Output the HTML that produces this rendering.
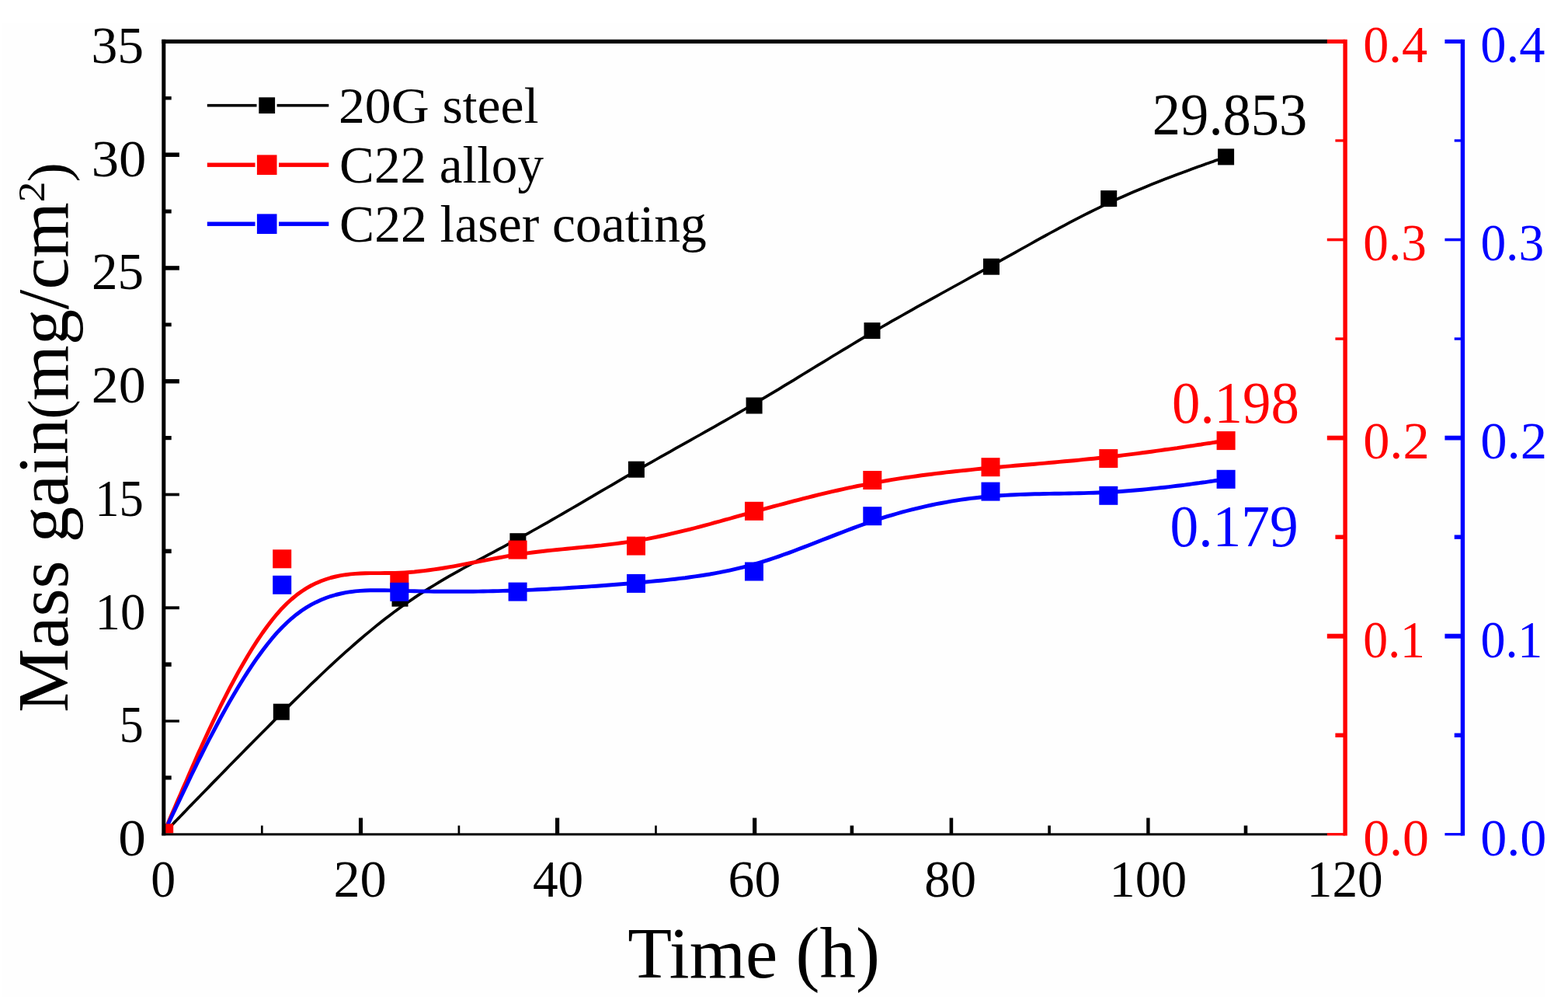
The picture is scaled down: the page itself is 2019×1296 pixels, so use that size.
<!DOCTYPE html>
<html lang="en"><head><meta charset="utf-8"><title>Mass gain versus time</title>
<style>html,body{margin:0;padding:0;background:#fff;}body{width:2019px;height:1296px;overflow:hidden;}svg{display:block;}text{font-family:'Liberation Serif','DejaVu Serif',serif;white-space:pre;}</style></head><body>
<svg width="2019" height="1296" viewBox="0 0 2019 1296">
<rect x="0.00" y="0.00" width="2019.00" height="1296.00" fill="#ffffff"/>
<rect x="3.00" y="29.00" width="1986.00" height="1254.00" fill="#fefefe"/>
<svg x="210.8" y="53.4" width="1521.3" height="1019.0" viewBox="210.8 53.4 1521.3 1019.0" overflow="hidden">
<path d="M210.5,1073.0 L210.5,1073.0 L210.5,1073.0 L210.5,1072.9 L210.6,1072.9 L210.7,1072.8 L210.9,1072.6 L211.1,1072.4 L211.4,1072.0 L211.8,1071.6 L212.3,1071.1 L212.9,1070.5 L213.7,1069.7 L214.5,1068.8 L215.5,1067.8 L216.7,1066.6 L218.0,1065.3 L219.5,1063.7 L221.2,1062.0 L223.1,1060.0 L225.1,1057.9 L227.4,1055.5 L230.0,1052.9 L232.8,1050.0 L235.8,1046.9 L239.1,1043.5 L242.6,1039.8 L246.4,1035.9 L250.4,1031.8 L254.7,1027.4 L259.1,1022.8 L263.8,1018.0 L268.6,1013.1 L273.6,1007.9 L278.8,1002.6 L284.1,997.2 L289.6,991.6 L295.2,985.8 L300.9,980.0 L306.7,974.1 L312.7,968.0 L318.7,961.9 L324.8,955.8 L331.0,949.5 L337.2,943.3 L343.5,937.0 L349.8,930.6 L356.1,924.3 L362.4,918.0 L368.8,911.7 L375.1,905.4 L381.5,899.2 L387.8,893.0 L394.2,886.8 L400.5,880.6 L406.9,874.6 L413.2,868.5 L419.6,862.5 L425.9,856.6 L432.3,850.7 L438.7,844.9 L445.0,839.2 L451.4,833.6 L457.7,828.0 L464.1,822.5 L470.4,817.1 L476.8,811.8 L483.1,806.6 L489.5,801.5 L495.8,796.5 L502.2,791.7 L508.5,786.9 L514.9,782.3 L521.2,777.8 L527.6,773.4 L533.9,769.1 L540.2,764.9 L546.6,760.9 L552.9,756.9 L559.3,753.0 L565.6,749.2 L571.9,745.4 L578.3,741.7 L584.6,738.1 L590.9,734.6 L597.3,731.0 L603.6,727.6 L610.0,724.1 L616.3,720.7 L622.6,717.3 L629.0,713.9 L635.3,710.6 L641.6,707.2 L648.0,703.8 L654.3,700.4 L660.7,697.0 L667.0,693.5 L673.3,690.1 L679.7,686.6 L686.0,683.0 L692.4,679.5 L698.7,675.9 L705.1,672.3 L711.4,668.6 L717.8,665.0 L724.1,661.3 L730.5,657.7 L736.8,654.0 L743.1,650.3 L749.5,646.6 L755.8,642.9 L762.2,639.1 L768.5,635.4 L774.9,631.7 L781.2,628.0 L787.6,624.3 L793.9,620.6 L800.2,616.9 L806.6,613.2 L812.9,609.6 L819.3,605.9 L825.6,602.3 L831.9,598.7 L838.3,595.1 L844.6,591.5 L850.9,587.9 L857.3,584.3 L863.6,580.8 L869.9,577.2 L876.3,573.7 L882.6,570.1 L888.9,566.6 L895.2,563.0 L901.6,559.5 L907.9,555.9 L914.2,552.3 L920.5,548.8 L926.9,545.2 L933.2,541.6 L939.5,538.0 L945.8,534.3 L952.2,530.7 L958.5,527.0 L964.8,523.3 L971.1,519.6 L977.5,515.9 L983.8,512.1 L990.1,508.4 L996.4,504.6 L1002.8,500.8 L1009.1,496.9 L1015.4,493.1 L1021.8,489.3 L1028.1,485.4 L1034.4,481.5 L1040.8,477.7 L1047.1,473.8 L1053.4,469.9 L1059.8,466.1 L1066.1,462.2 L1072.4,458.3 L1078.8,454.5 L1085.1,450.6 L1091.5,446.8 L1097.8,443.0 L1104.2,439.2 L1110.5,435.4 L1116.9,431.7 L1123.3,427.9 L1129.6,424.2 L1136.0,420.5 L1142.4,416.9 L1148.7,413.2 L1155.1,409.6 L1161.5,406.0 L1167.9,402.4 L1174.2,398.8 L1180.6,395.2 L1187.0,391.7 L1193.4,388.1 L1199.7,384.6 L1206.1,381.1 L1212.5,377.5 L1218.9,374.0 L1225.2,370.5 L1231.6,367.0 L1238.0,363.5 L1244.3,360.0 L1250.7,356.4 L1257.1,352.9 L1263.4,349.4 L1269.8,345.9 L1276.1,342.3 L1282.5,338.8 L1288.8,335.2 L1295.1,331.7 L1301.5,328.1 L1307.8,324.6 L1314.1,321.0 L1320.5,317.5 L1326.8,314.0 L1333.1,310.4 L1339.4,306.9 L1345.7,303.5 L1352.0,300.0 L1358.4,296.6 L1364.7,293.2 L1371.0,289.8 L1377.3,286.4 L1383.6,283.1 L1389.9,279.9 L1396.2,276.6 L1402.5,273.5 L1408.8,270.3 L1415.1,267.3 L1421.4,264.2 L1427.6,261.2 L1433.9,258.3 L1440.2,255.5 L1446.5,252.7 L1452.7,250.0 L1458.9,247.3 L1465.0,244.7 L1471.1,242.2 L1477.1,239.7 L1482.9,237.3 L1488.7,235.0 L1494.4,232.7 L1500.0,230.6 L1505.4,228.5 L1510.7,226.5 L1515.9,224.5 L1520.8,222.7 L1525.6,220.9 L1530.3,219.2 L1534.7,217.6 L1538.9,216.1 L1542.9,214.6 L1546.7,213.3 L1550.2,212.0 L1553.4,210.8 L1556.5,209.8 L1559.2,208.8 L1561.8,207.9 L1564.0,207.1 L1566.1,206.3 L1568.0,205.7 L1569.7,205.1 L1571.1,204.6 L1572.5,204.1 L1573.6,203.7 L1574.6,203.3 L1575.5,203.0 L1576.2,202.8 L1576.8,202.5 L1577.3,202.4 L1577.7,202.2 L1578.0,202.1 L1578.2,202.0 L1578.4,202.0 L1578.5,201.9 L1578.6,201.9 L1578.6,201.9 L1578.6,201.9 L1578.6,201.9" fill="none" stroke="#000000" stroke-width="3.70" stroke-linejoin="round"/>
<rect x="351.80" y="905.70" width="21.00" height="21.00" fill="#000000"/>
<rect x="504.50" y="759.70" width="21.00" height="21.00" fill="#000000"/>
<rect x="656.40" y="686.20" width="21.00" height="21.00" fill="#000000"/>
<rect x="808.90" y="593.70" width="21.00" height="21.00" fill="#000000"/>
<rect x="960.60" y="511.50" width="21.00" height="21.00" fill="#000000"/>
<rect x="1112.50" y="415.10" width="21.00" height="21.00" fill="#000000"/>
<rect x="1266.00" y="332.70" width="21.00" height="21.00" fill="#000000"/>
<rect x="1417.20" y="245.10" width="21.00" height="21.00" fill="#000000"/>
<rect x="1568.10" y="191.40" width="21.00" height="21.00" fill="#000000"/>
<path d="M210.5,1073.0 L210.5,1073.0 L210.5,1073.0 L210.5,1072.9 L210.6,1072.7 L210.7,1072.5 L210.9,1072.1 L211.1,1071.5 L211.4,1070.8 L211.8,1069.9 L212.3,1068.7 L213.0,1067.3 L213.7,1065.6 L214.5,1063.6 L215.6,1061.3 L216.7,1058.6 L218.0,1055.5 L219.5,1052.0 L221.2,1048.1 L223.1,1043.8 L225.2,1038.9 L227.5,1033.5 L230.1,1027.6 L232.9,1021.1 L235.9,1014.0 L239.3,1006.4 L242.8,998.2 L246.6,989.4 L250.7,980.2 L254.9,970.6 L259.4,960.7 L264.1,950.5 L268.9,940.0 L274.0,929.3 L279.2,918.5 L284.5,907.7 L290.0,896.8 L295.6,885.9 L301.4,875.1 L307.2,864.4 L313.2,854.0 L319.2,843.7 L325.3,833.8 L331.5,824.2 L337.7,815.0 L344.0,806.2 L350.3,798.0 L356.6,790.3 L362.9,783.2 L369.3,776.8 L375.6,771.0 L381.9,765.8 L388.2,761.2 L394.5,757.1 L400.9,753.5 L407.2,750.4 L413.5,747.7 L419.8,745.5 L426.1,743.5 L432.4,742.0 L438.7,740.7 L445.1,739.7 L451.4,738.9 L457.7,738.4 L464.0,738.0 L470.3,737.8 L476.6,737.6 L482.9,737.6 L489.2,737.6 L495.5,737.5 L501.9,737.5 L508.2,737.4 L514.5,737.2 L520.8,736.9 L527.1,736.5 L533.5,736.0 L539.8,735.3 L546.1,734.6 L552.5,733.8 L558.8,732.9 L565.1,732.0 L571.5,731.0 L577.8,729.9 L584.1,728.8 L590.5,727.6 L596.8,726.4 L603.2,725.2 L609.5,724.0 L615.8,722.8 L622.2,721.6 L628.5,720.4 L634.9,719.2 L641.2,718.0 L647.6,716.8 L653.9,715.7 L660.3,714.7 L666.6,713.7 L673.0,712.7 L679.3,711.9 L685.7,711.0 L692.0,710.3 L698.4,709.5 L704.7,708.8 L711.1,708.1 L717.4,707.5 L723.8,706.9 L730.1,706.2 L736.4,705.6 L742.8,705.0 L749.1,704.4 L755.5,703.8 L761.8,703.2 L768.2,702.5 L774.5,701.9 L780.9,701.1 L787.2,700.4 L793.6,699.6 L799.9,698.8 L806.2,697.9 L812.6,697.0 L818.9,696.0 L825.3,694.9 L831.6,693.8 L838.0,692.6 L844.3,691.3 L850.6,690.0 L857.0,688.6 L863.3,687.2 L869.6,685.7 L876.0,684.2 L882.3,682.7 L888.7,681.1 L895.0,679.5 L901.3,677.8 L907.7,676.2 L914.0,674.5 L920.3,672.7 L926.7,671.0 L933.0,669.2 L939.4,667.5 L945.7,665.7 L952.0,663.9 L958.4,662.2 L964.7,660.4 L971.0,658.6 L977.4,656.9 L983.7,655.1 L990.1,653.4 L996.4,651.7 L1002.8,650.0 L1009.1,648.3 L1015.4,646.6 L1021.8,644.9 L1028.1,643.3 L1034.5,641.7 L1040.8,640.1 L1047.2,638.5 L1053.5,636.9 L1059.8,635.4 L1066.2,633.9 L1072.5,632.4 L1078.9,631.0 L1085.2,629.6 L1091.6,628.2 L1097.9,626.9 L1104.3,625.5 L1110.6,624.3 L1116.9,623.0 L1123.3,621.8 L1129.6,620.7 L1136.0,619.6 L1142.3,618.5 L1148.7,617.4 L1155.0,616.4 L1161.3,615.4 L1167.7,614.5 L1174.0,613.6 L1180.4,612.7 L1186.7,611.8 L1193.0,611.0 L1199.4,610.2 L1205.7,609.4 L1212.1,608.7 L1218.4,607.9 L1224.7,607.2 L1231.1,606.5 L1237.4,605.9 L1243.8,605.2 L1250.1,604.6 L1256.4,603.9 L1262.8,603.3 L1269.1,602.7 L1275.4,602.1 L1281.8,601.6 L1288.1,601.0 L1294.4,600.4 L1300.8,599.9 L1307.1,599.3 L1313.4,598.8 L1319.7,598.3 L1326.1,597.7 L1332.4,597.2 L1338.7,596.6 L1345.1,596.1 L1351.4,595.5 L1357.7,595.0 L1364.0,594.4 L1370.4,593.8 L1376.7,593.2 L1383.0,592.7 L1389.3,592.1 L1395.6,591.4 L1402.0,590.8 L1408.3,590.2 L1414.6,589.5 L1420.9,588.8 L1427.2,588.1 L1433.5,587.4 L1439.8,586.7 L1446.1,585.9 L1452.4,585.1 L1458.6,584.4 L1464.7,583.6 L1470.8,582.8 L1476.8,582.0 L1482.7,581.2 L1488.5,580.4 L1494.2,579.6 L1499.8,578.8 L1505.2,578.1 L1510.5,577.3 L1515.7,576.6 L1520.7,575.8 L1525.5,575.1 L1530.1,574.4 L1534.6,573.8 L1538.8,573.1 L1542.8,572.5 L1546.6,572.0 L1550.1,571.4 L1553.4,570.9 L1556.4,570.5 L1559.2,570.1 L1561.7,569.7 L1564.0,569.3 L1566.1,569.0 L1568.0,568.7 L1569.6,568.5 L1571.1,568.2 L1572.4,568.0 L1573.6,567.9 L1574.6,567.7 L1575.4,567.6 L1576.2,567.5 L1576.8,567.4 L1577.3,567.3 L1577.7,567.2 L1578.0,567.2 L1578.2,567.2 L1578.4,567.1 L1578.5,567.1 L1578.6,567.1 L1578.6,567.1 L1578.6,567.1 L1578.6,567.1" fill="none" stroke="#ff0000" stroke-width="4.90" stroke-linejoin="round"/>
<rect x="351.20" y="707.30" width="24.00" height="24.00" fill="#ff0000"/>
<rect x="502.30" y="737.10" width="24.00" height="24.00" fill="#ff0000"/>
<rect x="654.60" y="695.60" width="24.00" height="24.00" fill="#ff0000"/>
<rect x="807.00" y="690.60" width="24.00" height="24.00" fill="#ff0000"/>
<rect x="959.00" y="645.80" width="24.00" height="24.00" fill="#ff0000"/>
<rect x="1111.30" y="606.00" width="24.00" height="24.00" fill="#ff0000"/>
<rect x="1263.50" y="589.20" width="24.00" height="24.00" fill="#ff0000"/>
<rect x="1415.30" y="578.10" width="24.00" height="24.00" fill="#ff0000"/>
<rect x="1566.60" y="555.10" width="24.00" height="24.00" fill="#ff0000"/>
<path d="M210.5,1073.0 L210.5,1073.0 L210.5,1073.0 L210.5,1072.9 L210.6,1072.8 L210.7,1072.5 L210.9,1072.2 L211.1,1071.7 L211.4,1071.0 L211.8,1070.2 L212.3,1069.1 L213.0,1067.9 L213.7,1066.3 L214.5,1064.5 L215.6,1062.4 L216.7,1060.0 L218.0,1057.2 L219.5,1054.0 L221.2,1050.5 L223.1,1046.5 L225.2,1042.1 L227.5,1037.2 L230.1,1031.9 L232.9,1026.0 L235.9,1019.6 L239.3,1012.7 L242.8,1005.2 L246.6,997.3 L250.7,989.0 L254.9,980.3 L259.4,971.3 L264.1,962.0 L268.9,952.5 L274.0,942.8 L279.2,933.0 L284.5,923.0 L290.0,913.1 L295.6,903.1 L301.4,893.2 L307.2,883.5 L313.2,873.8 L319.2,864.4 L325.3,855.2 L331.5,846.2 L337.7,837.7 L344.0,829.5 L350.3,821.7 L356.6,814.4 L362.9,807.7 L369.3,801.5 L375.6,795.8 L381.9,790.7 L388.2,786.0 L394.5,781.9 L400.9,778.2 L407.2,774.9 L413.5,772.0 L419.8,769.5 L426.1,767.3 L432.4,765.5 L438.7,764.0 L445.1,762.7 L451.4,761.7 L457.7,760.9 L464.0,760.4 L470.3,760.0 L476.6,759.8 L482.9,759.7 L489.2,759.7 L495.5,759.8 L501.9,759.9 L508.2,760.1 L514.5,760.3 L520.8,760.4 L527.1,760.6 L533.5,760.7 L539.8,760.9 L546.1,761.0 L552.5,761.1 L558.8,761.2 L565.1,761.2 L571.5,761.3 L577.8,761.3 L584.1,761.3 L590.5,761.3 L596.8,761.3 L603.2,761.2 L609.5,761.2 L615.8,761.1 L622.2,761.0 L628.5,760.9 L634.9,760.8 L641.2,760.6 L647.6,760.4 L653.9,760.3 L660.3,760.1 L666.6,759.9 L673.0,759.6 L679.3,759.4 L685.7,759.1 L692.0,758.8 L698.4,758.5 L704.7,758.2 L711.1,757.8 L717.4,757.5 L723.8,757.1 L730.1,756.7 L736.4,756.3 L742.8,755.9 L749.1,755.5 L755.5,755.1 L761.8,754.6 L768.2,754.2 L774.5,753.7 L780.9,753.2 L787.2,752.7 L793.6,752.2 L799.9,751.7 L806.2,751.2 L812.6,750.7 L818.9,750.1 L825.3,749.6 L831.6,749.0 L838.0,748.4 L844.3,747.8 L850.6,747.2 L857.0,746.6 L863.3,745.9 L869.6,745.2 L876.0,744.4 L882.3,743.7 L888.7,742.8 L895.0,741.9 L901.3,741.0 L907.7,740.0 L914.0,739.0 L920.3,737.8 L926.7,736.7 L933.0,735.4 L939.4,734.1 L945.7,732.7 L952.0,731.2 L958.4,729.6 L964.7,727.9 L971.0,726.2 L977.4,724.3 L983.7,722.4 L990.1,720.4 L996.4,718.3 L1002.8,716.1 L1009.1,713.8 L1015.4,711.6 L1021.8,709.2 L1028.1,706.8 L1034.5,704.4 L1040.8,702.0 L1047.2,699.5 L1053.5,697.0 L1059.8,694.5 L1066.2,692.1 L1072.5,689.6 L1078.9,687.1 L1085.2,684.7 L1091.6,682.3 L1097.9,679.9 L1104.3,677.5 L1110.6,675.2 L1116.9,673.0 L1123.3,670.8 L1129.6,668.7 L1136.0,666.7 L1142.3,664.7 L1148.7,662.8 L1155.0,661.0 L1161.3,659.2 L1167.7,657.5 L1174.0,655.9 L1180.4,654.3 L1186.7,652.8 L1193.0,651.4 L1199.4,650.0 L1205.7,648.7 L1212.1,647.5 L1218.4,646.3 L1224.7,645.2 L1231.1,644.2 L1237.4,643.2 L1243.8,642.3 L1250.1,641.4 L1256.4,640.7 L1262.8,640.0 L1269.1,639.3 L1275.4,638.7 L1281.8,638.2 L1288.1,637.8 L1294.4,637.4 L1300.8,637.0 L1307.1,636.7 L1313.4,636.4 L1319.7,636.2 L1326.1,636.0 L1332.4,635.8 L1338.7,635.7 L1345.1,635.5 L1351.4,635.4 L1357.7,635.3 L1364.0,635.2 L1370.4,635.1 L1376.7,635.0 L1383.0,634.9 L1389.3,634.8 L1395.6,634.6 L1402.0,634.4 L1408.3,634.2 L1414.6,634.0 L1420.9,633.7 L1427.2,633.4 L1433.5,633.1 L1439.8,632.7 L1446.1,632.3 L1452.4,631.8 L1458.6,631.3 L1464.7,630.8 L1470.8,630.2 L1476.8,629.6 L1482.7,629.0 L1488.5,628.4 L1494.2,627.8 L1499.8,627.2 L1505.2,626.6 L1510.5,625.9 L1515.7,625.3 L1520.7,624.7 L1525.5,624.1 L1530.1,623.5 L1534.6,622.9 L1538.8,622.3 L1542.8,621.8 L1546.6,621.2 L1550.1,620.8 L1553.4,620.3 L1556.4,619.9 L1559.2,619.5 L1561.7,619.1 L1564.0,618.8 L1566.1,618.5 L1568.0,618.3 L1569.6,618.0 L1571.1,617.8 L1572.4,617.7 L1573.6,617.5 L1574.6,617.4 L1575.4,617.2 L1576.2,617.1 L1576.8,617.1 L1577.3,617.0 L1577.7,616.9 L1578.0,616.9 L1578.2,616.9 L1578.4,616.8 L1578.5,616.8 L1578.6,616.8 L1578.6,616.8 L1578.6,616.8 L1578.6,616.8" fill="none" stroke="#0000ff" stroke-width="4.90" stroke-linejoin="round"/>
<rect x="351.20" y="740.80" width="24.00" height="24.00" fill="#0000ff"/>
<rect x="502.30" y="749.80" width="24.00" height="24.00" fill="#0000ff"/>
<rect x="654.60" y="749.60" width="24.00" height="24.00" fill="#0000ff"/>
<rect x="807.00" y="738.90" width="24.00" height="24.00" fill="#0000ff"/>
<rect x="959.00" y="723.50" width="24.00" height="24.00" fill="#0000ff"/>
<rect x="1111.30" y="652.20" width="24.00" height="24.00" fill="#0000ff"/>
<rect x="1263.50" y="620.60" width="24.00" height="24.00" fill="#0000ff"/>
<rect x="1415.30" y="625.80" width="24.00" height="24.00" fill="#0000ff"/>
<rect x="1566.60" y="604.80" width="24.00" height="24.00" fill="#0000ff"/>
<rect x="197.80" y="1060.30" width="25.40" height="25.40" fill="#ff0000"/>
</svg>
<rect x="208.30" y="50.80" width="1500.70" height="5.20" fill="#000000"/>
<rect x="208.30" y="1072.30" width="1500.70" height="3.00" fill="#000000"/>
<rect x="208.30" y="50.80" width="5.00" height="1024.50" fill="#000000"/>
<rect x="210.80" y="998.31" width="9.90" height="5.20" fill="#000000"/>
<rect x="210.80" y="926.33" width="20.10" height="3.40" fill="#000000"/>
<rect x="210.80" y="852.39" width="9.90" height="5.50" fill="#000000"/>
<rect x="210.80" y="780.31" width="20.10" height="3.90" fill="#000000"/>
<rect x="210.80" y="706.62" width="9.90" height="5.50" fill="#000000"/>
<rect x="210.80" y="634.64" width="20.10" height="3.70" fill="#000000"/>
<rect x="210.80" y="561.00" width="9.90" height="5.20" fill="#000000"/>
<rect x="210.80" y="487.96" width="20.10" height="5.50" fill="#000000"/>
<rect x="210.80" y="415.43" width="9.90" height="4.80" fill="#000000"/>
<rect x="210.80" y="342.19" width="20.10" height="5.50" fill="#000000"/>
<rect x="210.80" y="269.56" width="9.90" height="5.00" fill="#000000"/>
<rect x="210.80" y="196.42" width="20.10" height="5.50" fill="#000000"/>
<rect x="210.80" y="124.09" width="9.90" height="4.40" fill="#000000"/>
<rect x="335.95" y="1062.50" width="2.70" height="11.30" fill="#000000"/>
<rect x="461.95" y="1052.60" width="5.10" height="21.20" fill="#000000"/>
<rect x="589.55" y="1062.50" width="2.70" height="11.30" fill="#000000"/>
<rect x="715.00" y="1052.60" width="5.20" height="21.20" fill="#000000"/>
<rect x="843.20" y="1062.50" width="2.60" height="11.30" fill="#000000"/>
<rect x="969.10" y="1052.60" width="5.20" height="21.20" fill="#000000"/>
<rect x="1094.60" y="1062.50" width="4.60" height="11.30" fill="#000000"/>
<rect x="1222.60" y="1052.60" width="4.60" height="21.20" fill="#000000"/>
<rect x="1349.30" y="1062.50" width="3.60" height="11.30" fill="#000000"/>
<rect x="1476.20" y="1052.60" width="4.40" height="21.20" fill="#000000"/>
<rect x="1601.70" y="1062.50" width="4.60" height="11.30" fill="#000000"/>
<rect x="1729.40" y="50.80" width="5.40" height="1024.70" fill="#ff0000"/>
<rect x="1708.80" y="1072.05" width="23.30" height="3.30" fill="#ff0000"/>
<rect x="1719.40" y="943.55" width="12.70" height="5.40" fill="#ff0000"/>
<rect x="1708.80" y="815.70" width="23.30" height="6.00" fill="#ff0000"/>
<rect x="1719.40" y="688.45" width="12.70" height="5.40" fill="#ff0000"/>
<rect x="1708.80" y="560.70" width="23.30" height="5.80" fill="#ff0000"/>
<rect x="1719.40" y="434.35" width="12.70" height="3.40" fill="#ff0000"/>
<rect x="1708.80" y="306.70" width="23.30" height="3.60" fill="#ff0000"/>
<rect x="1719.40" y="179.30" width="12.70" height="3.30" fill="#ff0000"/>
<rect x="1708.80" y="50.80" width="23.30" height="5.20" fill="#ff0000"/>
<rect x="1880.70" y="50.80" width="5.40" height="1024.70" fill="#0000ff"/>
<rect x="1860.40" y="1072.05" width="23.00" height="3.30" fill="#0000ff"/>
<rect x="1872.70" y="943.55" width="10.70" height="5.40" fill="#0000ff"/>
<rect x="1860.40" y="815.70" width="23.00" height="6.00" fill="#0000ff"/>
<rect x="1872.70" y="688.45" width="10.70" height="5.40" fill="#0000ff"/>
<rect x="1860.40" y="560.70" width="23.00" height="5.80" fill="#0000ff"/>
<rect x="1872.70" y="434.35" width="10.70" height="3.40" fill="#0000ff"/>
<rect x="1860.40" y="306.70" width="23.00" height="3.60" fill="#0000ff"/>
<rect x="1872.70" y="179.30" width="10.70" height="3.30" fill="#0000ff"/>
<rect x="1860.40" y="50.80" width="23.00" height="5.20" fill="#0000ff"/>
<text transform="translate(117.52 80.82) scale(0.9968 1)" font-size="67.91" fill="#000000">35</text>
<text transform="translate(117.67 226.60) scale(1.0482 1)" font-size="67.41" fill="#000000">30</text>
<text transform="translate(117.88 372.36) scale(0.9881 1)" font-size="67.91" fill="#000000">25</text>
<text transform="translate(117.75 518.14) scale(1.0377 1)" font-size="67.41" fill="#000000">20</text>
<text transform="translate(122.16 663.90) scale(0.9156 1)" font-size="68.42" fill="#000000">15</text>
<text transform="translate(122.47 809.68) scale(0.9617 1)" font-size="67.41" fill="#000000">10</text>
<text transform="translate(153.78 955.44) scale(0.9062 1)" font-size="68.42" fill="#000000">5</text>
<text transform="translate(152.15 1101.23) scale(1.0561 1)" font-size="67.41" fill="#000000">0</text>
<text transform="translate(194.35 1154.32) scale(0.9384 1)" font-size="68.00" fill="#000000">0</text>
<text transform="translate(429.42 1154.32) scale(1.0061 1)" font-size="68.00" fill="#000000">20</text>
<text transform="translate(685.89 1154.32) scale(0.9606 1)" font-size="68.00" fill="#000000">40</text>
<text transform="translate(937.55 1154.32) scale(0.9965 1)" font-size="68.00" fill="#000000">60</text>
<text transform="translate(1190.33 1154.32) scale(0.9815 1)" font-size="68.00" fill="#000000">80</text>
<text transform="translate(1428.62 1154.32) scale(0.9779 1)" font-size="68.00" fill="#000000">100</text>
<text transform="translate(1682.83 1154.32) scale(0.9596 1)" font-size="68.00" fill="#000000">120</text>
<text transform="translate(1755.19 1100.67) scale(0.9903 1)" font-size="68.53" fill="#ff0000">0.0</text>
<text transform="translate(1906.28 1100.67) scale(0.9940 1)" font-size="68.53" fill="#0000ff">0.0</text>
<text transform="translate(1755.35 845.57) scale(0.9288 1)" font-size="68.53" fill="#ff0000">0.1</text>
<text transform="translate(1906.44 845.57) scale(0.9326 1)" font-size="68.53" fill="#0000ff">0.1</text>
<text transform="translate(1755.16 590.47) scale(0.9981 1)" font-size="68.53" fill="#ff0000">0.2</text>
<text transform="translate(1906.25 590.47) scale(1.0019 1)" font-size="68.53" fill="#0000ff">0.2</text>
<text transform="translate(1755.29 335.37) scale(0.9516 1)" font-size="68.53" fill="#ff0000">0.3</text>
<text transform="translate(1906.38 335.37) scale(0.9554 1)" font-size="68.53" fill="#0000ff">0.3</text>
<text transform="translate(1755.25 80.27) scale(0.9659 1)" font-size="68.53" fill="#ff0000">0.4</text>
<text transform="translate(1906.34 80.27) scale(0.9696 1)" font-size="68.53" fill="#0000ff">0.4</text>
<text transform="translate(808.24 1257.98) scale(1.0059 1)" font-size="92.49" fill="#000000">Time (h)</text>
<text transform="translate(87.40 916.88) rotate(-90) scale(0.9853 1)" font-size="94.00" fill="#000000">Mass gain</text>
<text transform="translate(87.15 539.51) rotate(-90) scale(1.0352 1)" font-size="73.11" fill="#000000">(</text>
<text transform="translate(87.40 515.64) rotate(-90) scale(0.9784 1)" font-size="94.00" fill="#000000">mg/cm</text>
<text transform="translate(56.50 260.20) rotate(-90) scale(1.0748 1)" font-size="49.55" fill="#000000">2</text>
<text transform="translate(87.15 234.38) rotate(-90) scale(1.0416 1)" font-size="73.11" fill="#000000">)</text>
<rect x="266.80" y="133.90" width="63.70" height="3.60" fill="#000000"/>
<rect x="356.60" y="133.90" width="66.70" height="3.60" fill="#000000"/>
<rect x="333.30" y="125.30" width="20.80" height="20.80" fill="#000000"/>
<text transform="translate(436.05 158.14) scale(1.0231 1)" font-size="66.14" fill="#000000">20G steel</text>
<rect x="266.80" y="209.50" width="61.70" height="5.40" fill="#ff0000"/>
<rect x="359.00" y="209.50" width="64.30" height="5.40" fill="#ff0000"/>
<rect x="330.90" y="199.40" width="25.60" height="25.60" fill="#ff0000"/>
<text transform="translate(437.11 235.36) scale(0.9970 1)" font-size="67.33" fill="#000000">C22 alloy</text>
<rect x="266.80" y="285.50" width="61.70" height="5.40" fill="#0000ff"/>
<rect x="359.00" y="285.50" width="64.30" height="5.40" fill="#0000ff"/>
<rect x="330.90" y="275.40" width="25.60" height="25.60" fill="#0000ff"/>
<text transform="translate(437.10 310.56) scale(1.0037 1)" font-size="67.33" fill="#000000">C22 laser coating</text>
<text transform="translate(1483.83 172.66) scale(0.9564 1)" font-size="75.88" fill="#000000">29.853</text>
<text transform="translate(1508.99 544.17) scale(0.9657 1)" font-size="75.44" fill="#ff0000">0.198</text>
<text transform="translate(1506.46 702.76) scale(0.9680 1)" font-size="75.88" fill="#0000ff">0.179</text>
</svg></body></html>
